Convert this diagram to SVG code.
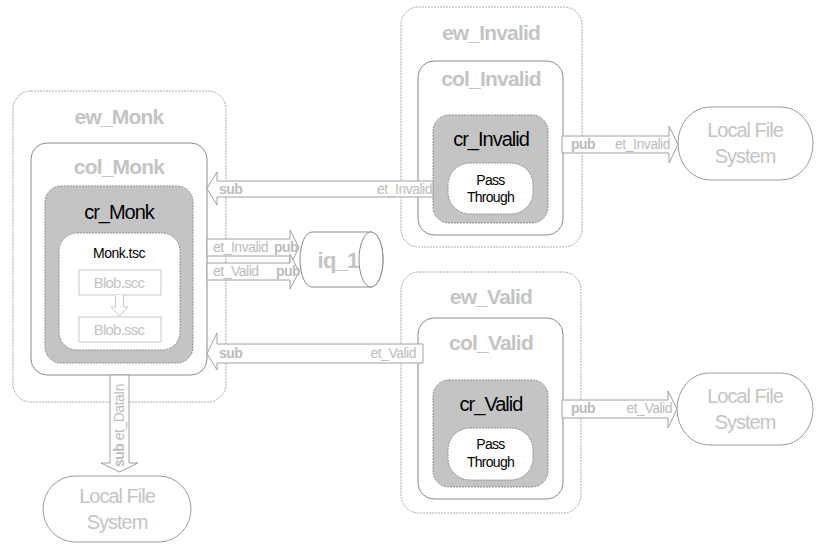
<svg xmlns="http://www.w3.org/2000/svg" width="819" height="548" viewBox="0 0 819 548">
<style>
.ew{fill:#fff;stroke:#a8a8a8;stroke-width:1;stroke-dasharray:2 1}
.col{fill:#fff;stroke:#8a8a8a;stroke-width:1}
.cr{fill:#c4c4c4;stroke:#909090;stroke-width:1;stroke-dasharray:2 1}
.inner{fill:#fff;stroke:#909090;stroke-width:1;stroke-dasharray:2 1}
.lfs{fill:#fff;stroke:#9a9a9a;stroke-width:1}
.blob{fill:#fff;stroke:#c8c8c8;stroke-width:1}
.arr{fill:#fff;stroke:#a0a0a0;stroke-width:1}
.t{font-family:"Liberation Sans",Arial,sans-serif;text-anchor:middle}
.big{font-size:21px;font-weight:bold;fill:#c4c4c4;letter-spacing:-0.8px}
.cr-t{font-size:20px;fill:#000;letter-spacing:-1px}
.pt{font-size:14px;fill:#000;letter-spacing:-0.7px}
.lfs-t{font-size:20px;fill:#c4c4c4;letter-spacing:-1px}
.blob-t{font-size:15px;fill:#c4c4c4;letter-spacing:-0.8px}
.a-t{font-family:"Liberation Sans",Arial,sans-serif;font-size:14px;fill:#bcbcbc;letter-spacing:-0.5px}
.a-b{font-weight:bold}
</style>

<g id="ew_Monk">
<rect class="ew" x="13" y="91" width="213" height="311" rx="18"/>
<text class="t big" x="119" y="124">ew_Monk</text>
</g>
<g id="col_Monk">
<rect class="col" x="31" y="143" width="176" height="232" rx="16"/>
<text class="t big" x="119" y="174">col_Monk</text>
</g>
<g id="cr_Monk">
<rect class="cr" x="45" y="186" width="148" height="177" rx="16"/>
<text class="t cr-t" x="119" y="219">cr_Monk</text>
</g>
<g id="Monk_tsc">
<rect class="inner" x="59" y="233" width="121" height="117" rx="18"/>
<text class="t pt" x="119" y="258" style="letter-spacing:-0.5px">Monk.tsc</text>
</g>
<g id="Blob_scc">
<rect class="blob" x="79" y="270" width="82" height="25"/>
<text class="t blob-t" x="119" y="288">Blob.scc</text>
</g>
<g id="Blob_ssc">
<rect class="blob" x="79" y="317" width="82" height="25"/>
<text class="t blob-t" x="119" y="335">Blob.ssc</text>
</g>

<g id="ew_Invalid">
<rect class="ew" x="401" y="7" width="181" height="240" rx="18"/>
<text class="t big" x="491" y="40">ew_Invalid</text>
</g>
<g id="col_Invalid">
<rect class="col" x="418" y="61" width="145" height="174" rx="16"/>
<text class="t big" x="491" y="86">col_Invalid</text>
</g>
<g id="cr_Invalid">
<rect class="cr" x="433" y="115" width="115" height="108" rx="16"/>
<text class="t cr-t" x="491" y="146">cr_Invalid</text>
</g>
<g id="pass_Invalid">
<rect class="inner" x="448" y="163" width="85" height="51" rx="22"/>
<text class="t pt" x="490.5" y="185">Pass</text>
<text class="t pt" x="490.5" y="202">Through</text>
</g>

<g id="ew_Valid">
<rect class="ew" x="401" y="272" width="180" height="241" rx="18"/>
<text class="t big" x="491" y="304">ew_Valid</text>
</g>
<g id="col_Valid">
<rect class="col" x="418" y="318" width="145" height="181" rx="16"/>
<text class="t big" x="491" y="350">col_Valid</text>
</g>
<g id="cr_Valid">
<rect class="cr" x="433" y="380" width="115" height="107" rx="16"/>
<text class="t cr-t" x="491" y="411">cr_Valid</text>
</g>
<g id="pass_Valid">
<rect class="inner" x="448" y="428" width="85" height="52" rx="22"/>
<text class="t pt" x="490.5" y="449">Pass</text>
<text class="t pt" x="490.5" y="467">Through</text>
</g>

<g id="iq_1">
<path class="col" d="M312,232 L371,232 A12,27.5 0 0 1 371,287 L312,287 A12,27.5 0 0 1 312,232 Z"/>
<ellipse class="col" cx="371" cy="259.5" rx="12" ry="27.5"/>
<text class="t big" x="338" y="268" style="font-size:22px">iq_1</text>
</g>

<g id="lfs_Invalid">
<rect class="lfs" x="678" y="107" width="135" height="73" rx="32" ry="36"/>
<text class="t lfs-t" x="745" y="137">Local File</text>
<text class="t lfs-t" x="745" y="163">System</text>
</g>
<g id="lfs_Valid">
<rect class="lfs" x="677" y="373" width="136" height="72" rx="32" ry="36"/>
<text class="t lfs-t" x="745" y="403">Local File</text>
<text class="t lfs-t" x="745" y="429">System</text>
</g>
<g id="lfs_Monk">
<rect class="lfs" x="43" y="476" width="148" height="66" rx="32" ry="33"/>
<text class="t lfs-t" x="117" y="503">Local File</text>
<text class="t lfs-t" x="117" y="529">System</text>
</g>

<g id="connectors">
<path class="arr" d="M115.5,295 L115.5,307 L111,307 L119.5,316 L128,307 L123.5,307 L123.5,295" style="stroke:#c8c8c8"/>

<path class="arr" d="M433,181 L217,181 L217,172 L207,188.5 L217,205 L217,197 L433,197 Z"/>
<text class="a-t a-b" x="219" y="194">sub</text>
<text class="a-t" x="432" y="194" text-anchor="end">et_Invalid</text>

<path class="arr" d="M207,239 L290,239 L290,230 L299,247.5 L290,265 L290,256 L207,256 Z"/>
<text class="a-t" x="213" y="252">et_Invalid</text>
<text class="a-t a-b" x="274" y="252">pub</text>
<path class="arr" d="M207,263 L290,263 L290,254 L299,271.5 L290,289 L290,280 L207,280 Z"/>
<text class="a-t" x="213" y="276">et_Valid</text>
<text class="a-t a-b" x="276" y="276">pub</text>

<path class="arr" d="M423,344 L217,344 L217,333 L207,353.5 L217,370 L217,363 L423,363 Z"/>
<text class="a-t a-b" x="219" y="358">sub</text>
<text class="a-t" x="416" y="358" text-anchor="end">et_Valid</text>

<path class="arr" d="M562,136 L669,136 L669,126 L678,144.5 L669,163 L669,153 L562,153 Z"/>
<text class="a-t a-b" x="571" y="149">pub</text>
<text class="a-t" x="670" y="149" text-anchor="end">et_Invalid</text>

<path class="arr" d="M562,400 L668,400 L668,391 L677,409 L668,428 L668,418 L562,418 Z"/>
<text class="a-t a-b" x="571" y="413">pub</text>
<text class="a-t" x="672" y="413" text-anchor="end">et_Valid</text>

<path class="arr" d="M110,375 L110,463 L101,463 L119.5,472 L138,463 L129,463 L129,375 Z"/>
<text class="a-t" transform="translate(124,467) rotate(-90)"><tspan class="a-b">sub</tspan> et_DataIn</text>
</g>
</svg>
